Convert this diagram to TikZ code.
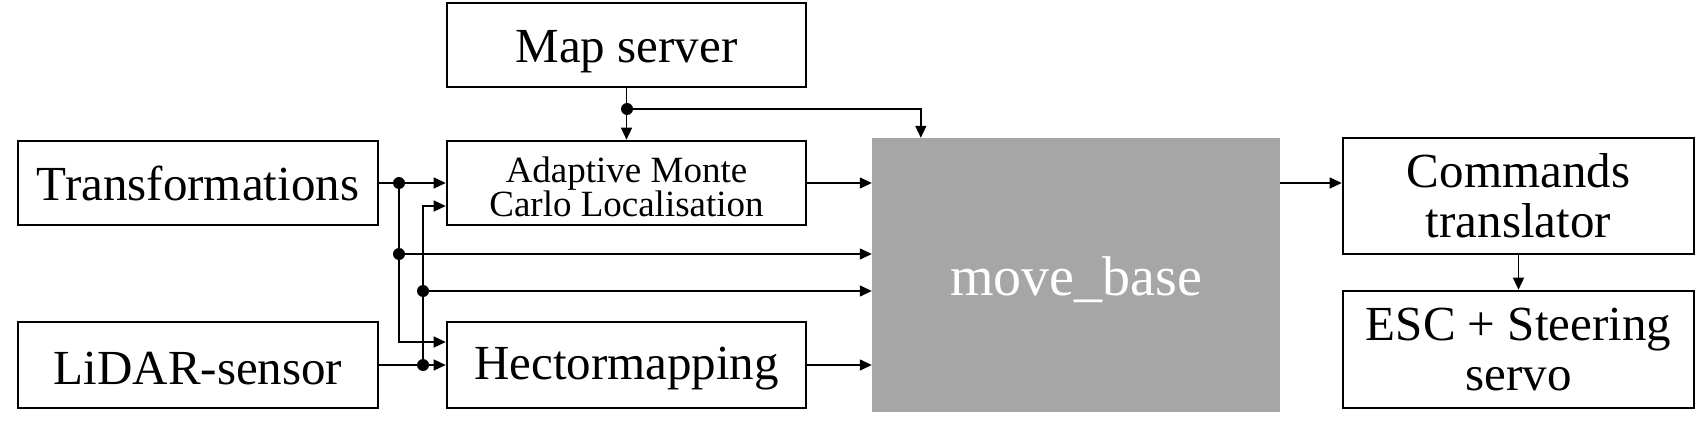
\documentclass[tikz,border=0pt]{standalone}
\usepackage{fontspec}
\setmainfont{Liberation Serif}
\usetikzlibrary{arrows.meta,calc}
\begin{document}
\begin{tikzpicture}[x=1pt,y=-1pt,
  box/.style={draw=black,line width=2.6pt,align=center,inner sep=0pt,
    font=\fontsize{49}{50}\selectfont},
  arr/.style={line width=1.4pt,-{Triangle[length=12pt,width=11pt]}},
  dot/.style={circle,fill=black,inner sep=0pt,minimum size=12pt}]
\useasboundingbox (0,0) rectangle (1696,425);
\node[box,minimum width=359pt,minimum height=84pt,
  label={[font=\fontsize{49}{50}\selectfont,inner sep=0pt,yshift=-7pt]center:Map server}] (map) at (626.5,45) {};
\node[box,minimum width=360pt,minimum height=84pt] (trans) at (198,183) {Transformations};
\node[box,minimum width=359pt,minimum height=84pt,
  label={[font=\fontsize{37}{34}\selectfont,align=center,inner sep=0pt,yshift=-4pt]center:Adaptive Monte\\Carlo Localisation}] (amcl) at (626.5,183) {};
\node[box,minimum width=360pt,minimum height=86pt,
  label={[font=\fontsize{49}{50}\selectfont,inner sep=0pt,yshift=-4pt]center:LiDAR-sensor}] (lidar) at (198,365) {};
\node[box,minimum width=359pt,minimum height=86pt,
  label={[font=\fontsize{49}{50}\selectfont,inner sep=0pt,yshift=-4pt]center:Hectormapping}] (hector) at (626.5,365) {};
\node[fill={rgb,255:red,166;green,166;blue,166},inner sep=0pt,minimum width=408pt,minimum height=274pt,
  label={[text=white,font=\fontsize{56}{58}\selectfont,inner sep=0pt,yshift=-5pt]center:move\_base}] (move) at (1076,275) {};
\node[box,minimum width=351pt,minimum height=116pt] (cmd) at (1518.5,196) {Commands\\translator};
\node[box,minimum width=351pt,minimum height=117pt] (esc) at (1518.5,349.5) {ESC + Steering\\servo};
% junctions
\node[dot] (j1) at (399,183) {};
\node[dot] (j2) at (399,254) {};
\node[dot] (j3) at (423,291) {};
\node[dot] (j4) at (423,365) {};
\node[dot] (mj) at (627,109) {};
% connectors
\draw[arr] (trans.east) -- (amcl.west);
\draw[arr] (j1.center) |- ([yshift=23pt]hector.west);
\draw[arr] (j2.center) -- (j2.center -| move.west);
\draw[arr] (lidar.east) -- (hector.west);
\draw[arr] (j4.center) |- ([yshift=-23pt]amcl.west);
\draw[arr] (j3.center) -- (j3.center -| move.west);
\draw[arr] (amcl.east) -- (amcl.east -| move.west);
\draw[arr] (hector.east) -- (hector.east -| move.west);
\draw[arr] (map.south) -- (amcl.north);
\draw[arr] (mj.center) -| ([xshift=49pt]move.north west);
\draw[arr] ([yshift=13pt]cmd.west -| move.east) -- ([yshift=13pt]cmd.west);
\draw[arr] (cmd.south) -- (esc.north);
\end{tikzpicture}
\end{document}
